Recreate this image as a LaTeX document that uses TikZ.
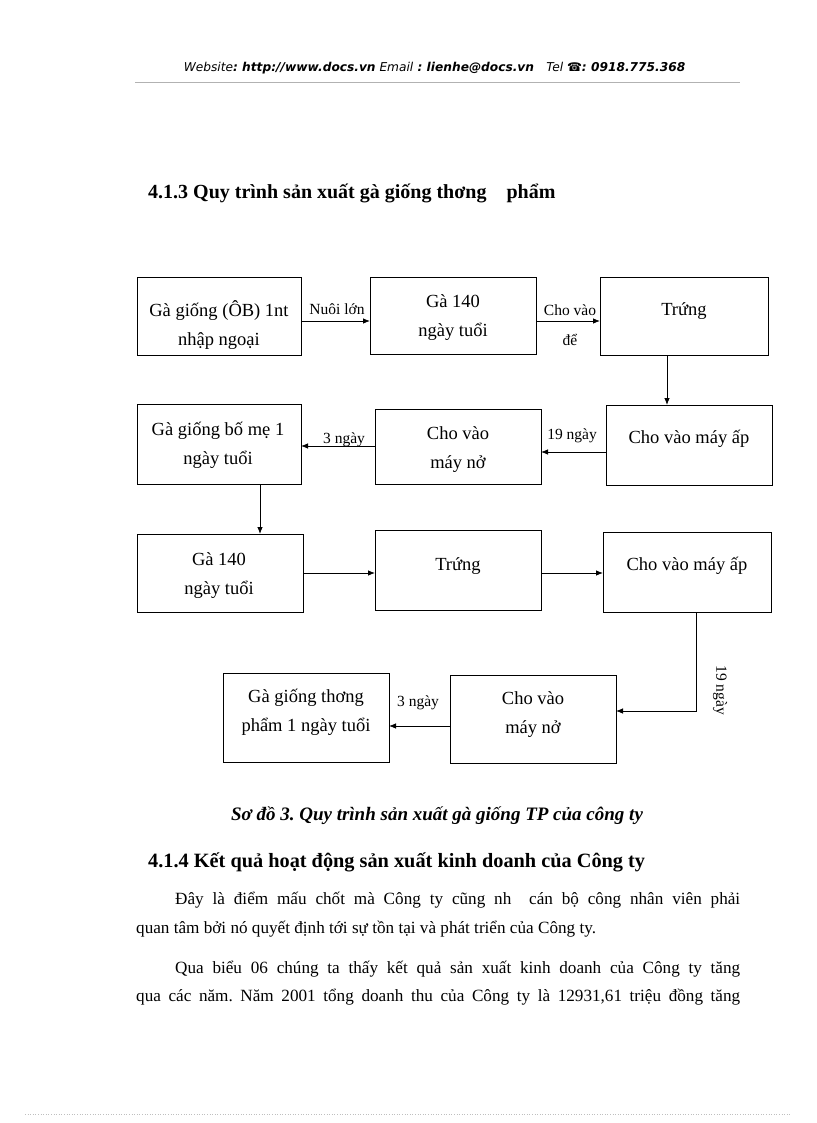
\documentclass[tikz,border=0pt]{standalone}
\usepackage{fontspec}
\setmainfont{Liberation Serif}
\newfontfamily\hdrfont{DejaVu Sans}
\newfontfamily\symfont{DejaVu Sans}
\usetikzlibrary{arrows.meta}
\frenchspacing
\begin{document}
\begin{tikzpicture}[x=1pt,y=-1pt,
  box/.style={draw, line width=1pt, inner sep=0pt, outer sep=0pt},
  bt/.style={font=\fontsize{18.5}{29}\selectfont, align=center, inner sep=0pt},
  lbl/.style={font=\fontsize{15.5}{17}\selectfont, inner sep=0pt},
  arr/.style={-{Latex[length=7pt,width=5.5pt]}, line width=0.8pt},
  para/.style={anchor=base west, inner sep=0pt, font=\fontsize{17.15}{20}\selectfont}]
\useasboundingbox[fill=white] (0,0) rectangle (816,1123);

% header
\node[inner sep=0pt, font=\hdrfont\fontsize{12.2}{14}\selectfont] (hdr) at (434.5,68)
  {{\itshape Website}{\bfseries\itshape : http://www.docs.vn} {\itshape Email}{\bfseries\itshape\ : lienhe@docs.vn}\quad{\itshape Tel} {\symfont\fontsize{12}{14}\selectfont ☎}{\bfseries\itshape : 0918.775.368}};
\draw[line width=0.8pt, gray!60] (135,82) -- (740,82);

% title
\node[anchor=west, inner sep=0pt, font=\bfseries\fontsize{20}{23}\selectfont] (title) at (148,193)
  {4.1.3 Quy trình sản xuất gà giống thơng\hspace{1em}phẩm};

% boxes
\node[box, minimum width=164pt, minimum height=78pt] (A) at (219,316) {};
\node[box, minimum width=166pt, minimum height=77pt] (B) at (453,315.5) {};
\node[box, minimum width=168pt, minimum height=78pt] (C) at (684,316) {};
\node[box, minimum width=164pt, minimum height=80pt] (D) at (219,444) {};
\node[box, minimum width=166pt, minimum height=75pt] (E) at (458,446.5) {};
\node[box, minimum width=166pt, minimum height=80pt] (F) at (689,445) {};
\node[box, minimum width=166pt, minimum height=78pt] (G) at (220,573) {};
\node[box, minimum width=166pt, minimum height=80pt] (H) at (458,570) {};
\node[box, minimum width=168pt, minimum height=80pt] (I) at (687,572) {};
\node[box, minimum width=166pt, minimum height=88pt] (J) at (533,719) {};
\node[box, minimum width=166pt, minimum height=89pt] (K) at (306,717.5) {};

% box texts
\node[bt] (At) at (219,325.5) {Gà giống (ÔB) 1nt\\nhập ngoại};
\node[bt] (Bt) at (453,317.5) {Gà 140\\ngày tuổi};
\node[bt] (Ct) at (684,311) {Trứng};
\node[bt] (Dt) at (218,445.5) {Gà giống bố mẹ 1\\ngày tuổi};
\node[bt] (Et) at (458,450) {Cho vào\\máy nở};
\node[bt] (Ft) at (689,439) {Cho vào máy ấp};
\node[bt] (Gt) at (219,575.5) {Gà 140\\ngày tuổi};
\node[bt] (Ht) at (458,566) {Trứng};
\node[bt] (It) at (687,566) {Cho vào máy ấp};
\node[bt] (Jt) at (533,714.5) {Cho vào\\máy nở};
\node[bt] (Kt) at (306,712.5) {Gà giống thơng\\phẩm 1 ngày tuổi};

% level coordinates
\coordinate (y1) at (0,321);
\coordinate (y2a) at (0,452);
\coordinate (y2b) at (0,446);
\coordinate (y3) at (0,573);
\coordinate (y4) at (0,726);
\coordinate (xcf) at (667,0);
\coordinate (xdg) at (260,0);
\coordinate (corner) at (696,711);

% connectors
\draw[arr] (A.east |- y1) -- (B.west |- y1);
\draw[arr] (B.east |- y1) -- (C.west |- y1);
\draw[arr] (C.south -| xcf) -- (F.north -| xcf);
\draw[arr] (F.west |- y2a) -- (E.east |- y2a);
\draw[arr] (E.west |- y2b) -- (D.east |- y2b);
\draw[arr] (D.south -| xdg) -- (G.north -| xdg);
\draw[arr] (G.east |- y3) -- (H.west |- y3);
\draw[arr] (H.east |- y3) -- (I.west |- y3);
\draw[arr] (I.south -| corner) -- (corner) -- (J.east |- corner);
\draw[arr] (J.west |- y4) -- (K.east |- y4);

% connector labels
\node[lbl] (l1) at (337,309) {Nuôi lớn};
\node[lbl] (l2) at (570,310) {Cho vào};
\node[lbl] (l2b) at (570,340) {để};
\node[lbl] (l3) at (344,440) {3 ngày};
\node[lbl] (l4) at (572,436) {19 ngày};
\node[lbl] (l5) at (418,703) {3 ngày};
\node[lbl, rotate=-90] (l6) at (720,690) {19 ngày};

% caption
\node[inner sep=0pt, font=\bfseries\itshape\fontsize{19}{22}\selectfont] (cap) at (437,816)
  {Sơ đồ 3. Quy trình sản xuất gà giống TP của công ty};

% section heading
\node[anchor=west, inner sep=0pt, font=\bfseries\fontsize{20.3}{23}\selectfont] (h2) at (148,862)
  {4.1.4 Kết quả hoạt động sản xuất kinh doanh của Công ty};

% paragraph
\node[para] (p1) at (175,904) {\makebox[565pt][s]{Đây là điểm mấu chốt mà Công ty cũng nh\ \ cán bộ công nhân viên phải}};
\node[para] (p2) at (136,933) {quan tâm bởi nó quyết định tới sự tồn tại và phát triển của Công ty.};
\node[para] (p3) at (175,973) {\makebox[565pt][s]{Qua biểu 06 chúng ta thấy kết quả sản xuất kinh doanh của Công ty tăng}};
\node[para] (p4) at (136,1001) {\makebox[604pt][s]{qua các năm. Năm 2001 tổng doanh thu của Công ty là 12931,61 triệu đồng tăng}};

% footer dotted rule
\draw[dotted, line width=0.6pt, gray!50] (25,1114) -- (790,1114);
\end{tikzpicture}
\end{document}
